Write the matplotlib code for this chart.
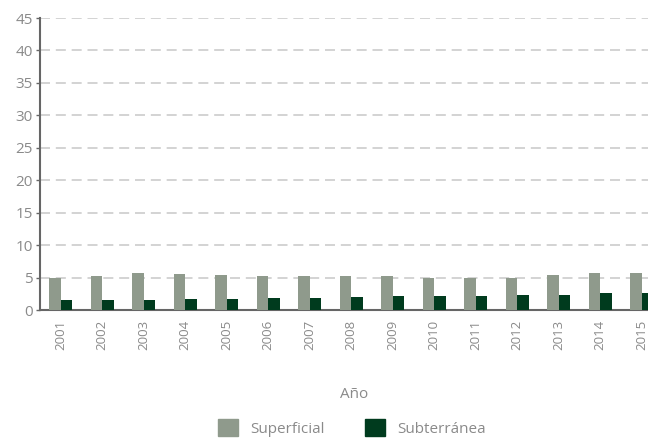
import numpy as np
import matplotlib.pyplot as plt
from matplotlib.patches import Patch

anios = ['2001', '2002', '2003', '2004', '2005', '2006', '2007', '2008',
         '2009', '2010', '2011', '2012', '2013', '2014', '2015']
superficial = [4.95, 5.3, 5.65, 5.6, 5.35, 5.3, 5.2, 5.2, 5.2, 5.0, 5.0, 4.95, 5.45, 5.65, 5.65]
subterranea = [1.55, 1.55, 1.6, 1.65, 1.7, 1.8, 1.9, 2.0, 2.1, 2.1, 2.2, 2.25, 2.3, 2.6, 2.6]

c_sup = '#8f9a8c'
c_sub = '#003b1e'
gris = '#8a8a8a'

plt.rcParams['font.family'] = ['Open Sans', 'DejaVu Sans']

fig = plt.figure(figsize=(6.48, 4.38), dpi=100)
ax = fig.add_axes([40/648, 1 - 310/438, 1 - 40/648, (310 - 18)/438])

x = np.arange(len(anios))
w = 0.28
ax.bar(x - w/2, superficial, w, color=c_sup, zorder=3)
ax.bar(x + w/2, subterranea, w, color=c_sub, zorder=3)

ax.set_ylim(0, 45)
ax.set_xlim(-0.5, 14.15)
ax.set_yticks(range(0, 46, 5))
ax.set_xticks(x)
ax.set_xticklabels(anios, rotation=90, fontsize=9.5, color=gris)
ax.tick_params(axis='y', labelsize=11, labelcolor=gris, color='#666666', length=3, width=1, pad=2)
ax.tick_params(axis='x', length=0, pad=7)
ax.yaxis.grid(True, linestyle=(0, (6, 3.5)), color='#cccccc', linewidth=1.2, zorder=0)

for s in ['top', 'right']:
    ax.spines[s].set_visible(False)
for s in ['left', 'bottom']:
    ax.spines[s].set_color('#666666')
    ax.spines[s].set_linewidth(1.5)

fig.text(354/648, 1 - 395/438, 'Año', ha='center', va='center', fontsize=11, color=gris)

handles = [Patch(color=c_sup, label='Superficial'), Patch(color=c_sub, label='Subterránea')]
fig.legend(handles=handles, loc='center', bbox_to_anchor=(352/648, 1 - 428/438), ncol=2,
           frameon=False, fontsize=11, labelcolor=gris, handlelength=1.3, handleheight=1.3,
           handletextpad=0.8, columnspacing=2.6, borderpad=0, borderaxespad=0)

fig.savefig('out.png', dpi=100)
